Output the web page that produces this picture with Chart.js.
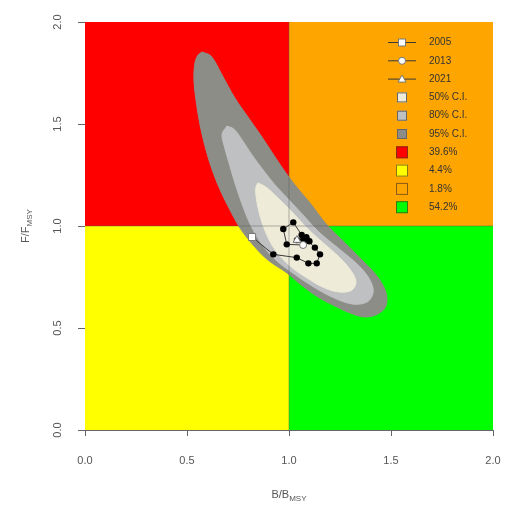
<!DOCTYPE html>
<html>
<head>
<meta charset="utf-8">
<script src="https://cdn.jsdelivr.net/npm/chart.js@4.4.1/dist/chart.umd.min.js"></script>
<style>
  html, body { margin: 0; padding: 0; background: #ffffff; }
  canvas { display: block; }
</style>
</head>
<body>
<canvas id="kobe" width="506" height="506"></canvas>
<script>
// ---- Stock trajectory (B/Bmsy, F/Fmsy) ----
const years  = [2005, 2006, 2007, 2008, 2009, 2010, 2011, 2012, 2013, 2014, 2015, 2016, 2017, 2018, 2019, 2020, 2021];
const bRatio = [0.819, 0.923, 1.038, 1.095, 1.136, 1.152, 1.127, 1.090, 1.069, 0.989, 0.972, 1.021, 1.062, 1.085, 1.100, 1.070, 1.039];
const fRatio = [0.946, 0.861, 0.845, 0.817, 0.817, 0.861, 0.894, 0.930, 0.907, 0.910, 0.985, 1.018, 0.956, 0.945, 0.925, 0.935, 0.931];
const markedYears = [2005, 2013, 2021];
const markedShapes = ['rect', 'circle', 'triangle'];

// ---- Confidence regions of the terminal-year estimate ----
const ci95B = [0.574, 0.618, 0.672, 0.735, 0.809, 0.877, 0.951, 1.029, 1.103, 1.186, 1.275, 1.358, 1.431, 1.475, 1.475, 1.436, 1.373, 1.299, 1.225, 1.142, 1.054, 0.990, 0.897, 0.824, 0.760, 0.711, 0.667, 0.627, 0.593, 0.564, 0.544, 0.534, 0.539, 0.554, 0.574];
const ci95F = [1.853, 1.833, 1.740, 1.627, 1.520, 1.422, 1.309, 1.201, 1.113, 1.005, 0.917, 0.833, 0.755, 0.676, 0.608, 0.569, 0.554, 0.574, 0.608, 0.652, 0.716, 0.770, 0.833, 0.907, 0.990, 1.078, 1.167, 1.265, 1.373, 1.495, 1.618, 1.716, 1.799, 1.838, 1.853];
const ci80B = [0.696, 0.730, 0.770, 0.819, 0.873, 0.936, 1.005, 1.078, 1.142, 1.216, 1.289, 1.358, 1.402, 1.412, 1.382, 1.309, 1.211, 1.113, 1.025, 0.941, 0.873, 0.819, 0.775, 0.735, 0.706, 0.681, 0.672, 0.696];
const ci80F = [1.490, 1.475, 1.422, 1.348, 1.275, 1.196, 1.123, 1.044, 0.975, 0.912, 0.853, 0.789, 0.725, 0.672, 0.627, 0.618, 0.652, 0.706, 0.765, 0.828, 0.902, 0.990, 1.093, 1.211, 1.309, 1.397, 1.451, 1.490];
const ci50B = [0.848, 0.887, 0.946, 1.015, 1.088, 1.162, 1.235, 1.294, 1.328, 1.309, 1.250, 1.176, 1.088, 1.005, 0.936, 0.887, 0.853, 0.838, 0.838, 0.848];
const ci50F = [1.211, 1.191, 1.137, 1.069, 0.990, 0.922, 0.858, 0.794, 0.730, 0.686, 0.676, 0.696, 0.745, 0.804, 0.877, 0.966, 1.069, 1.152, 1.191, 1.211];

// ---- Kobe quadrants: [B from, B to], [F from, F to] ----
const quadB      = [[0, 1], [0, 1], [1, 2], [1, 2]];
const quadF      = [[1, 2], [0, 1], [1, 2], [0, 1]];
const quadColors = ['#FF0000', '#FFFF00', '#FFA500', '#00FF00'];
const quadPct    = [39.6, 4.4, 1.8, 54.2];

const ciLabels = ['50% C.I.', '80% C.I.', '95% C.I.'];
const ciColors = ['#EEEBD8', '#BFC0C1', '#8D8D87'];

const axisTicks = [0, 0.5, 1, 1.5, 2];
const FONT = '"Liberation Sans", Arial, Helvetica, sans-serif';

const toXY = (xs, ys) => xs.map((x, i) => ({ x: x, y: ys[i] }));

function contourSet(label, xs, ys, color, order) {
  return {
    label: label, type: 'line', data: toXY(xs, ys),
    borderColor: color, backgroundColor: color, borderWidth: 1,
    fill: 'shape', tension: 0.35, pointRadius: 0, order: order
  };
}

// Coloured status quadrants painted under all datasets
const quadrantPlugin = {
  id: 'quadrants',
  beforeDatasetsDraw(chart) {
    const { ctx, scales: { x, y } } = chart;
    ctx.save();
    quadColors.forEach((c, i) => {
      const x0 = x.getPixelForValue(quadB[i][0]), x1 = x.getPixelForValue(quadB[i][1]);
      const y0 = y.getPixelForValue(quadF[i][1]), y1 = y.getPixelForValue(quadF[i][0]);
      ctx.fillStyle = c;
      ctx.fillRect(x0, y0, x1 - x0, y1 - y0);
    });
    ctx.restore();
  }
};

// Legend, rotated y tick labels and the axis titles with subscripts
const annotatePlugin = {
  id: 'annotate',
  afterDraw(chart) {
    const { ctx, scales: { x, y } } = chart;
    ctx.save();

    // y tick labels, reading bottom to top
    ctx.fillStyle = '#555';
    ctx.font = '11px ' + FONT;
    ctx.textAlign = 'center';
    ctx.textBaseline = 'middle';
    y.ticks.forEach(t => {
      ctx.save();
      ctx.translate(58, y.getPixelForValue(t.value));
      ctx.rotate(-Math.PI / 2);
      ctx.fillText(t.value.toFixed(1), 0, 0);
      ctx.restore();
    });

    // axis titles
    function titleWithSub(main, sub, cx, cy, angle) {
      ctx.save();
      ctx.translate(cx, cy);
      ctx.rotate(angle);
      ctx.fillStyle = '#555';
      ctx.textBaseline = 'alphabetic';
      ctx.textAlign = 'left';
      ctx.font = '11px ' + FONT;
      const wMain = ctx.measureText(main).width;
      ctx.font = '8px ' + FONT;
      const wSub = ctx.measureText(sub).width;
      const start = -(wMain + wSub) / 2;
      ctx.font = '11px ' + FONT;
      ctx.fillText(main, start, 4);
      ctx.font = '8px ' + FONT;
      ctx.fillText(sub, start + wMain, 7);
      ctx.restore();
    }
    const midX = (x.left + x.right) / 2;
    const midY = (y.top + y.bottom) / 2;
    titleWithSub('B/B', 'MSY', midX, 494, 0);
    titleWithSub('F/F', 'MSY', 25, midY, -Math.PI / 2);

    // legend
    const symX = 402, textX = 429, rowTop = 42.5, rowStep = 18.3;
    ctx.font = '10px ' + FONT;
    ctx.textAlign = 'left';
    ctx.textBaseline = 'middle';
    let row = 0;
    markedYears.forEach((yr, i) => {
      const cy = rowTop + row * rowStep;
      ctx.strokeStyle = '#3a3a3a';
      ctx.lineWidth = 1;
      ctx.beginPath(); ctx.moveTo(388, cy); ctx.lineTo(416, cy); ctx.stroke();
      ctx.fillStyle = '#ffffff';
      ctx.strokeStyle = '#777';
      ctx.beginPath();
      if (markedShapes[i] === 'rect') ctx.rect(symX - 3.5, cy - 3.5, 7, 7);
      else if (markedShapes[i] === 'circle') ctx.arc(symX, cy, 3.5, 0, Math.PI * 2);
      else { ctx.moveTo(symX, cy - 4); ctx.lineTo(symX + 4, cy + 3); ctx.lineTo(symX - 4, cy + 3); ctx.closePath(); }
      ctx.fill(); ctx.stroke();
      ctx.fillStyle = '#333';
      ctx.fillText(String(yr), textX, cy);
      row++;
    });
    ciLabels.forEach((lab, i) => {
      const cy = rowTop + row * rowStep;
      ctx.fillStyle = ciColors[i];
      ctx.strokeStyle = '#666';
      ctx.fillRect(symX - 5, cy - 5, 10, 10);
      ctx.strokeRect(symX - 5 + 0.5, cy - 5 + 0.5, 9, 9);
      ctx.fillStyle = '#333';
      ctx.fillText(lab, textX, cy);
      row++;
    });
    quadColors.forEach((c, i) => {
      const cy = rowTop + row * rowStep;
      ctx.fillStyle = c;
      ctx.strokeStyle = 'rgba(90,60,30,0.7)';
      ctx.fillRect(symX - 6, cy - 6, 12, 12);
      ctx.strokeRect(symX - 6 + 0.5, cy - 6 + 0.5, 11, 11);
      ctx.fillStyle = '#333';
      ctx.fillText(quadPct[i].toFixed(1) + '%', textX, cy);
      row++;
    });
    ctx.restore();
  }
};

const highlight = markedYears.map(yr => years.indexOf(yr));

new Chart(document.getElementById('kobe'), {
  type: 'line',
  data: {
    datasets: [
      {
        label: 'highlighted years', type: 'line',
        data: highlight.map(i => ({ x: bRatio[i], y: fRatio[i] })),
        showLine: false,
        pointStyle: markedShapes,
        pointRadius: [5, 3.5, 4.5],
        pointBackgroundColor: '#ffffff',
        pointBorderColor: '#777',
        pointBorderWidth: 1,
        order: 0
      },
      {
        label: 'trajectory', type: 'line',
        data: toXY(bRatio, fRatio),
        borderColor: '#3a3a3a', borderWidth: 1, tension: 0,
        pointRadius: 3.2, pointBackgroundColor: '#000', pointBorderColor: '#000',
        pointBorderWidth: 0, fill: false, order: 1
      },
      {
        label: 'Bmsy', type: 'line', data: [{ x: 1, y: 0 }, { x: 1, y: 2 }],
        borderColor: 'rgba(90,90,90,0.45)', borderWidth: 1, pointRadius: 0, fill: false, order: 2
      },
      {
        label: 'Fmsy', type: 'line', data: [{ x: 0, y: 1 }, { x: 2, y: 1 }],
        borderColor: 'rgba(90,90,90,0.45)', borderWidth: 1, pointRadius: 0, fill: false, order: 2
      },
      contourSet(ciLabels[0], ci50B, ci50F, ciColors[0], 3),
      contourSet(ciLabels[1], ci80B, ci80F, ciColors[1], 4),
      contourSet(ciLabels[2], ci95B, ci95F, ciColors[2], 5)
    ]
  },
  options: {
    responsive: false,
    animation: false,
    events: [],
    layout: { padding: { left: 0, top: 22, right: 0, bottom: 0 } },
    plugins: { legend: { display: false }, tooltip: { enabled: false } },
    scales: {
      x: {
        type: 'linear', min: 0, max: 2,
        afterBuildTicks: s => { s.ticks = axisTicks.map(v => ({ value: v })); },
        ticks: {
          callback: v => Number(v).toFixed(1),
          font: { family: FONT, size: 11 }, color: '#555', padding: 18, maxRotation: 0
        },
        grid: { drawOnChartArea: false, drawTicks: true, tickLength: 6, color: '#666', lineWidth: 1 },
        border: { display: true, color: '#666', width: 1 },
        afterFit: s => { s.height = 76; s.paddingRight = 13; }
      },
      y: {
        type: 'linear', min: 0, max: 2,
        afterBuildTicks: s => { s.ticks = axisTicks.map(v => ({ value: v })); },
        ticks: { display: false },
        grid: { drawOnChartArea: false, drawTicks: true, tickLength: 7, color: '#666', lineWidth: 1 },
        border: { display: true, color: '#666', width: 1 },
        afterFit: s => { s.width = 85; }
      }
    }
  },
  plugins: [quadrantPlugin, annotatePlugin]
});
</script>
</body>
</html>
